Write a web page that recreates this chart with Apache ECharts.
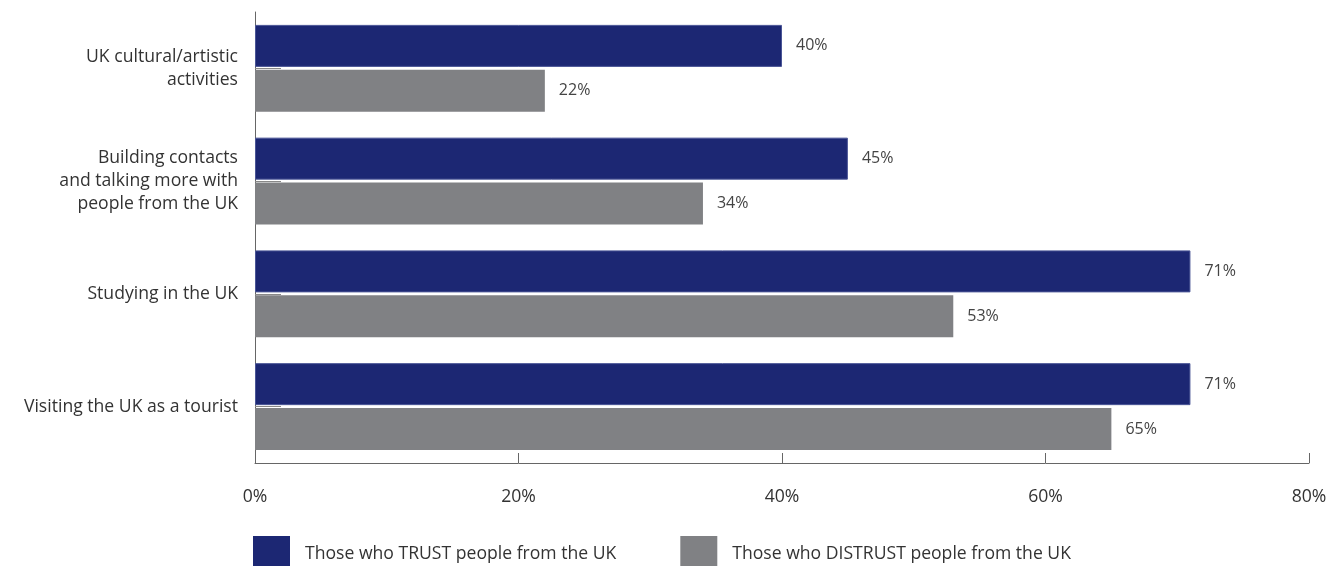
<!DOCTYPE html>
<html>
<head>
<meta charset="utf-8">
<script src="https://cdn.jsdelivr.net/npm/echarts@6/dist/echarts.min.js"></script>
<style>
  html, body { margin: 0; padding: 0; background: #fff; }
  #chart { width: 1331px; height: 566px; }
</style>
</head>
<body>
<div id="chart"></div>
<script>
// data
const categories = [
  'UK cultural/artistic\nactivities',
  'Building contacts\nand talking more with\npeople from the UK',
  'Studying in the UK',
  'Visiting the UK as a tourist'
]
const trustValues = [40, 45, 71, 71]
const distrustValues = [22, 34, 53, 65]
const seriesNames = ['Those who TRUST people from the UK', 'Those who DISTRUST people from the UK']

const chart = echarts.init(document.getElementById('chart'))
const font = '"Open Sans", Lato, sans-serif'

chart.setOption({
  backgroundColor: '#fff',
  animation: false,
  textStyle: { fontFamily: font },
  legend: {
    left: 248,
    top: 531,
    itemWidth: 37,
    itemHeight: 36,
    itemGap: 64,
    icon: 'rect',
    itemStyle: { borderWidth: 0 },
    textStyle: { fontSize: 17.6, color: '#333', fontFamily: font, padding: [0, 0, 0, 10] },
    data: seriesNames
  },
  grid: {
    left: 255,
    right: 22,
    top: 12,
    bottom: 103,
    containLabel: false
  },
  xAxis: {
    type: 'value',
    min: 0,
    max: 80,
    interval: 20,
    axisLine: { show: true, lineStyle: { color: '#666', width: 1 } },
    axisTick: { show: true, inside: true, length: 10, lineStyle: { color: '#666' } },
    splitLine: { show: false },
    axisLabel: {
      formatter: '{value}%',
      fontSize: 17.6,
      color: '#333',
      margin: 25,
      fontFamily: font
    }
  },
  yAxis: {
    type: 'category',
    inverse: true,
    data: categories,
    axisLine: { show: true, lineStyle: { color: '#666', width: 1 } },
    axisTick: { show: true, inside: true, alignWithLabel: true, length: 26, lineStyle: { color: '#888' } },
    axisLabel: {
      fontSize: 17.6,
      lineHeight: 23,
      color: '#333',
      margin: 17,
      align: 'right',
      fontFamily: font
    }
  },
  series: [
    {
      name: seriesNames[0],
      type: 'bar',
      data: trustValues,
      barWidth: 42,
      barGap: '7%',
      itemStyle: { color: '#1c2773', borderColor: '#4a5596', borderWidth: 1 },
      label: {
        show: true,
        position: 'right',
        distance: 14,
        formatter: '{c}%',
        fontSize: 16,
        color: '#444',
        fontFamily: font
      }
    },
    {
      name: seriesNames[1],
      type: 'bar',
      data: distrustValues,
      barWidth: 42,
      itemStyle: { color: '#808184' },
      label: {
        show: true,
        position: 'right',
        distance: 14,
        formatter: '{c}%',
        fontSize: 16,
        color: '#444',
        fontFamily: font
      }
    }
  ]
})
</script>
</body>
</html>
